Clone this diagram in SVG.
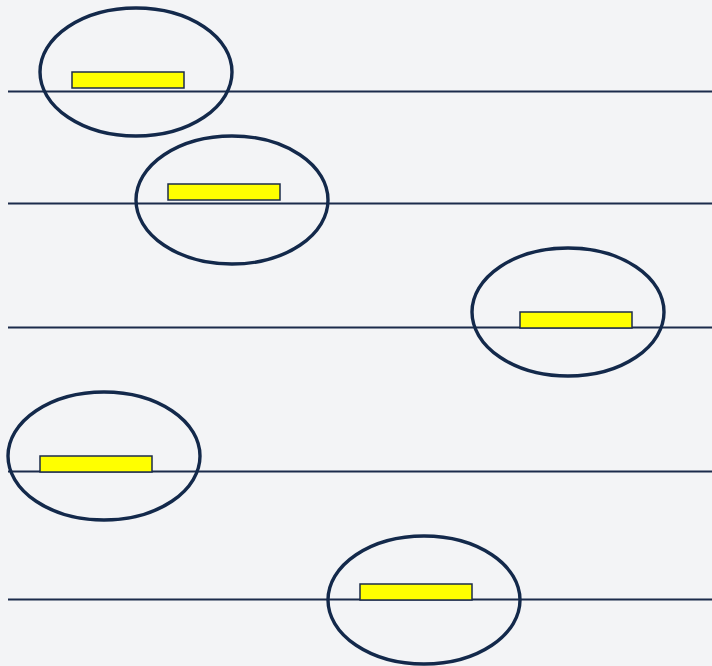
<svg xmlns="http://www.w3.org/2000/svg" width="712" height="666" viewBox="0 0 712 666">
<style>
.ln{stroke:#1b2b4b;stroke-width:1.8;fill:none}
.el{fill:none;stroke:#13294b;stroke-width:3.4}
.bar{fill:#ffff00;stroke:#1b2b4b;stroke-width:1.5}
</style>
<rect width="712" height="666" fill="#f3f4f6"/>
<g id="connectors">
<line class="ln" x1="8" y1="91.5" x2="712" y2="91.5"/>
<line class="ln" x1="8" y1="203.5" x2="712" y2="203.5"/>
<line class="ln" x1="8" y1="327.5" x2="712" y2="327.5"/>
<line class="ln" x1="8" y1="471.5" x2="712" y2="471.5"/>
<line class="ln" x1="8" y1="599.5" x2="712" y2="599.5"/>
</g>
<g id="node1"><ellipse class="el" cx="136" cy="72" rx="96" ry="64"/><rect class="bar" x="72" y="72" width="112" height="16"/></g>
<g id="node2"><ellipse class="el" cx="232" cy="200" rx="96" ry="64"/><rect class="bar" x="168" y="184" width="112" height="16"/></g>
<g id="node3"><ellipse class="el" cx="568" cy="312" rx="96" ry="64"/><rect class="bar" x="520" y="312" width="112" height="16"/></g>
<g id="node4"><ellipse class="el" cx="104" cy="456" rx="96" ry="64"/><rect class="bar" x="40" y="456" width="112" height="16"/></g>
<g id="node5"><ellipse class="el" cx="424" cy="600" rx="96" ry="64"/><rect class="bar" x="360" y="584" width="112" height="16"/></g>
</svg>
